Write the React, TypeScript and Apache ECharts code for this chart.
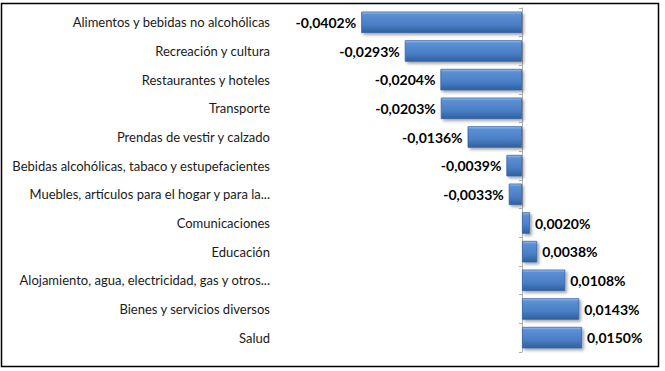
import React, { useEffect, useRef } from "react";
import * as echarts from "echarts";

const categories = [
  "Alimentos y bebidas no alcohólicas",
  "Recreación y cultura",
  "Restaurantes y hoteles",
  "Transporte",
  "Prendas de vestir y calzado",
  "Bebidas alcohólicas, tabaco y estupefacientes",
  "Muebles, artículos para el hogar y para la...",
  "Comunicaciones",
  "Educación",
  "Alojamiento, agua, electricidad, gas y otros...",
  "Bienes y servicios diversos",
  "Salud",
];

const values = [
  -0.0402, -0.0293, -0.0204, -0.0203, -0.0136, -0.0039, -0.0033, 0.002, 0.0038,
  0.0108, 0.0143, 0.015,
];

const fmt = (v: number) => v.toFixed(4).replace(".", ",") + "%";

export default function App() {
  const ref = useRef<HTMLDivElement>(null);
  useEffect(() => {
    document.body.style.margin = "0";
    const chart = echarts.init(ref.current!, null, { renderer: "svg" });
    const font = "Lato, 'Open Sans', sans-serif";
    chart.setOption({
      animation: false,
      grid: { left: 282, right: 23, top: 8, bottom: 19 },
      xAxis: {
        type: "value",
        min: -0.06,
        max: 0.03,
        show: false,
      },
      yAxis: [
        {
          type: "category",
          data: categories,
          inverse: true,
          axisLine: { show: false, onZero: false },
          axisTick: { show: false },
          axisLabel: {
            margin: 12,
            color: "#1a1a1a",
            fontSize: 13,
            fontFamily: font,
          },
        },
        {
          type: "category",
          data: categories,
          inverse: true,
          position: "left",
          axisLine: { show: true, onZero: true, lineStyle: { color: "#b0b0b0", width: 1 } },
          axisTick: { show: true, length: 3, lineStyle: { color: "#b0b0b0" } },
          axisLabel: { show: false },
        },
      ],
      series: [
        {
          type: "bar",
          yAxisIndex: 0,
          barCategoryGap: "25%",
          data: values.map((v) => ({
            value: v,
            label: { position: v < 0 ? "left" : "right" },
          })),
          itemStyle: {
            color: new echarts.graphic.LinearGradient(0, 0, 0, 1, [
              { offset: 0, color: "#a3c4ee" },
              { offset: 0.12, color: "#5b90d4" },
              { offset: 0.6, color: "#4a7fc6" },
              { offset: 1, color: "#2f609f" },
            ]),
            borderColor: "#3566a6",
            borderWidth: 0.8,
            shadowColor: "rgba(0,0,0,0.35)",
            shadowBlur: 3,
            shadowOffsetX: 2,
            shadowOffsetY: 2,
          },
          label: {
            show: true,
            distance: 5,
            formatter: (p: any) => fmt(p.value),
            color: "#000",
            fontWeight: "bold",
            fontSize: 14,
            fontFamily: font,
          },
        },
      ],
      graphic: [
        {
          type: "rect",
          shape: { x: 1.5, y: 3.5, width: 657, height: 363 },
          style: { fill: "none", stroke: "#000", lineWidth: 1.5 },
          silent: true,
        },
      ],
    });
    return () => chart.dispose();
  }, []);
  return <div ref={ref} style={{ width: 665, height: 371 }} />;
}
